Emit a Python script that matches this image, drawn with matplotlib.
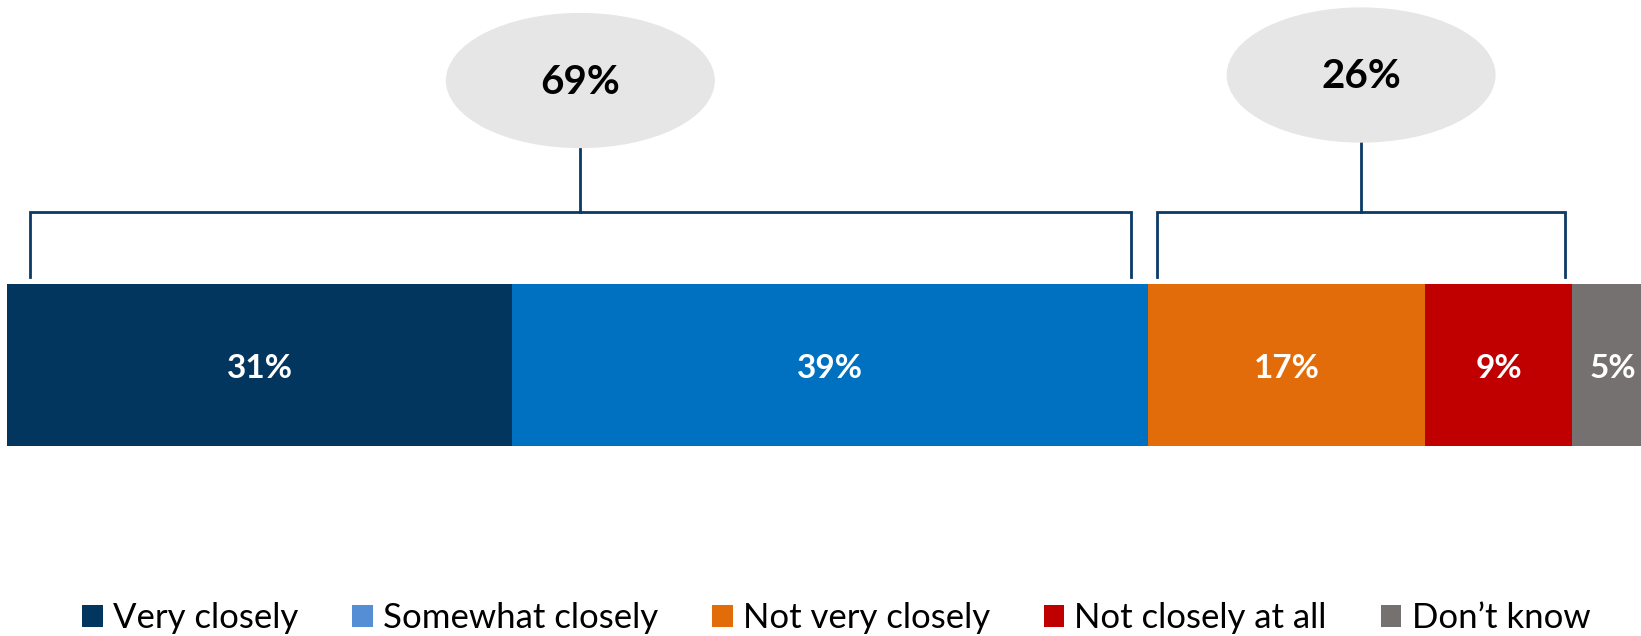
import matplotlib
matplotlib.use("Agg")
import matplotlib.pyplot as plt
from matplotlib.patches import Ellipse, Patch
import numpy as np

# ---- data ----
categories = ["Very closely", "Somewhat closely", "Not very closely",
              "Not closely at all", "Don\u2019t know"]
values = [31, 39, 17, 9, 5]
# net groups: (first index, last index, label)
net_groups = [(0, 1, "69%"), (2, 3, "26%")]

# ---- style ----
bar_colors = ["#02365F", "#0070C0", "#E36C0A", "#C00000", "#767171"]
legend_colors = ["#02365F", "#558ED5", "#E36C0A", "#C00000", "#767171"]
bracket_color = "#0B3A66"
bubble_color = "#E6E6E6"
plt.rcParams["font.family"] = ["Lato", "DejaVu Sans"]

W, H = 1641, 636
fig = plt.figure(figsize=(W / 100, H / 100), dpi=100)
ax = fig.add_axes([0, 0, 1, 1])
px_per_pct = 16.3
x0_px = 7
ax.set_xlim(-x0_px / px_per_pct, (W - x0_px) / px_per_pct)
bar_px = 162.0
bar_center_px = 365.0
ax.set_ylim(-(H - bar_center_px) / bar_px, bar_center_px / bar_px)
ax.axis("off")

lefts = np.concatenate([[0], np.cumsum(values)[:-1]])
bars = ax.barh([0] * len(values), values, left=lefts, height=1.0,
               color=bar_colors, edgecolor="none")
for l, v in zip(lefts, values):
    ax.text(l + v / 2, -0.02, f"{v}%", ha="center", va="center",
            color="white", fontsize=24, fontweight="bold")

# brackets and bubbles
insets = [(1.4, 1.05), (0.55, 0.4)]
bubble_y = [1.756, 1.79]
y_top = 0.945
y_stub = 0.543
ell_w = 16.5
ell_h = 0.835
cum = np.cumsum(values)
for (i0, i1, lab), (inl, inr), by in zip(net_groups, insets, bubble_y):
    xa = lefts[i0] + inl
    xb = cum[i1] - inr
    xm = (xa + xb) / 2
    ax.plot([xa, xa, xb, xb], [y_stub, y_top, y_top, y_stub],
            color=bracket_color, lw=2.0, solid_joinstyle="miter")
    ax.plot([xm, xm], [y_top, by - ell_h / 2], color=bracket_color, lw=2.0)
    ax.add_patch(Ellipse((xm, by), ell_w, ell_h, facecolor=bubble_color,
                         edgecolor="none", zorder=3))
    ax.text(xm, by - 0.01, lab, ha="center", va="center", fontsize=29,
            fontweight="bold", color="black", zorder=4)

handles = [Patch(facecolor=c, edgecolor="none") for c in legend_colors]
fig.legend(handles, categories, loc="center", ncol=5,
           bbox_to_anchor=(836 / W, 1 - 618 / H), frameon=False,
           fontsize=25, handlelength=0.6, handleheight=0.6,
           handletextpad=0.29, columnspacing=1.55, borderpad=0,
           borderaxespad=0)

fig.savefig("out.png", dpi=100)
